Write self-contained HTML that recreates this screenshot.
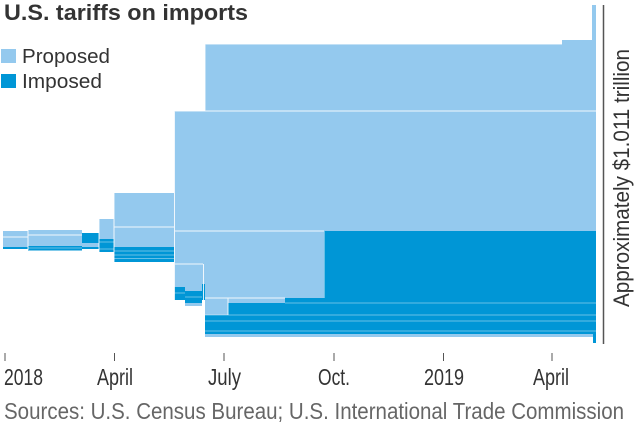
<!DOCTYPE html>
<html>
<head>
<meta charset="utf-8">
<style>
  html, body { margin: 0; padding: 0; background: #ffffff; }
  body { width: 640px; height: 428px; overflow: hidden; }
  svg { display: block; }
  text { font-family: "Liberation Sans Narrow", "Liberation Sans", sans-serif; }
</style>
</head>
<body>
<svg width="640" height="428" viewBox="0 0 640 428" xmlns="http://www.w3.org/2000/svg">
  <!-- Title -->
  <text x="4" y="20" font-size="22" font-weight="bold" fill="#333333" textLength="244" lengthAdjust="spacingAndGlyphs">U.S. tariffs on imports</text>

  <!-- Legend -->
  <rect x="1" y="49" width="15" height="14" fill="#94c9ee"/>
  <text x="22" y="63" font-size="20" fill="#333333" textLength="88" lengthAdjust="spacingAndGlyphs">Proposed</text>
  <rect x="1" y="74" width="15" height="14" fill="#0096d6"/>
  <text x="22" y="88" font-size="20" fill="#333333" textLength="80" lengthAdjust="spacingAndGlyphs">Imposed</text>

  <!-- Light (proposed) areas -->
  <g fill="#94c9ee">
    <rect x="3" y="231" width="25" height="16"/>
    <rect x="28" y="230" width="54" height="16"/>
    <rect x="82" y="243" width="17" height="4"/>
    <rect x="99" y="219" width="15" height="20"/>
    <rect x="114" y="193" width="60" height="54"/>
    <rect x="174" y="111" width="422" height="120"/>
    <rect x="205" y="44" width="391" height="67"/>
    <rect x="562" y="40" width="30" height="4"/>
    <rect x="592" y="5" width="4" height="39"/>
    <rect x="174" y="231" width="150" height="67"/>
    <rect x="174" y="264" width="11" height="23"/>
    <rect x="185" y="264" width="17" height="27"/>
    <rect x="185" y="303" width="17" height="3"/>
    <rect x="205" y="298" width="23" height="17"/>
    <rect x="228" y="298" width="57" height="5"/>
    <rect x="205" y="334" width="391" height="3"/>
  </g>

  <!-- Dark (imposed) areas -->
  <g fill="#0096d6">
    <rect x="3" y="247" width="25" height="2"/>
    <rect x="28" y="246" width="54" height="4.5"/>
    <rect x="82" y="233" width="17" height="10"/>
    <rect x="82" y="247" width="17" height="2"/>
    <rect x="99" y="239" width="15" height="13"/>
    <rect x="114" y="247" width="60" height="15"/>
    <rect x="324" y="231" width="272" height="67"/>
    <rect x="174" y="287" width="11" height="13"/>
    <rect x="185" y="291" width="17" height="12"/>
    <rect x="202" y="284" width="3" height="16"/>
    <rect x="228" y="303" width="57" height="13"/>
    <rect x="285" y="298" width="311" height="18"/>
    <rect x="205" y="315" width="391" height="19"/>
    <rect x="593" y="298" width="3" height="45"/>
  </g>

  <!-- White separators on light areas -->
  <g stroke="#ffffff" stroke-width="1" opacity="0.85" fill="none">
    <line x1="3" y1="237" x2="28" y2="237"/>
    <line x1="28" y1="235" x2="82" y2="235"/>
    <line x1="28" y1="230" x2="28" y2="250"/>
    <line x1="99" y1="219" x2="99" y2="252"/>
    <line x1="114" y1="193" x2="114" y2="262"/>
    <line x1="114" y1="227" x2="174" y2="227"/>
    <line x1="174.5" y1="111" x2="174.5" y2="300"/>
    <line x1="174" y1="111" x2="596" y2="111"/>
    <line x1="205" y1="44" x2="205" y2="111"/>
    <line x1="205" y1="44" x2="562" y2="44"/>
    <line x1="174" y1="231" x2="324" y2="231"/>
    <line x1="175" y1="264" x2="203" y2="264"/>
    <line x1="203.5" y1="264" x2="203.5" y2="305"/>
    <line x1="205" y1="298" x2="285" y2="298"/>
    <line x1="228" y1="298" x2="228" y2="315"/>
  </g>

  <!-- Lighter separators on dark areas -->
  <g stroke="#ffffff" stroke-width="1" opacity="0.4" fill="none">
    <line x1="28" y1="248" x2="82" y2="248"/>
    <line x1="99" y1="242" x2="114" y2="242"/>
    <line x1="99" y1="249" x2="114" y2="249"/>
    <line x1="114" y1="251" x2="174" y2="251"/>
    <line x1="114" y1="255" x2="174" y2="255"/>
    <line x1="114" y1="258.5" x2="174" y2="258.5"/>
    <line x1="174" y1="293" x2="185" y2="293"/>
    <line x1="185" y1="297" x2="202" y2="297"/>
    <line x1="324.5" y1="231" x2="324.5" y2="298"/>
    <line x1="285" y1="303" x2="596" y2="303"/>
    <line x1="205" y1="315" x2="596" y2="315"/>
    <line x1="205" y1="321" x2="596" y2="321"/>
    <line x1="205" y1="331" x2="596" y2="331"/>
  </g>

  <!-- Total line and label -->
  <line x1="603.5" y1="5" x2="603.5" y2="344" stroke="#555555" stroke-width="1.5"/>
  <text transform="translate(629,307) rotate(-90)" x="0" y="0" font-size="22" fill="#333333" textLength="258" lengthAdjust="spacingAndGlyphs">Approximately $1.011 trillion</text>

  <!-- Axis ticks -->
  <g stroke="#555555" stroke-width="1">
    <line x1="5" y1="353" x2="5" y2="361"/>
    <line x1="114.5" y1="353" x2="114.5" y2="361"/>
    <line x1="224" y1="353" x2="224" y2="361"/>
    <line x1="334" y1="353" x2="334" y2="361"/>
    <line x1="443.5" y1="353" x2="443.5" y2="361"/>
    <line x1="552" y1="353" x2="552" y2="361"/>
  </g>

  <!-- Axis labels -->
  <g font-size="23.5" fill="#333333">
    <text x="4" y="385" textLength="39" lengthAdjust="spacingAndGlyphs">2018</text>
    <text x="97" y="385" textLength="36" lengthAdjust="spacingAndGlyphs">April</text>
    <text x="208" y="385" textLength="33" lengthAdjust="spacingAndGlyphs">July</text>
    <text x="318" y="385" textLength="32" lengthAdjust="spacingAndGlyphs">Oct.</text>
    <text x="424" y="385" textLength="40" lengthAdjust="spacingAndGlyphs">2019</text>
    <text x="533" y="385" textLength="36" lengthAdjust="spacingAndGlyphs">April</text>
  </g>

  <!-- Source -->
  <text x="4" y="419" font-size="23.5" fill="#666666" textLength="620" lengthAdjust="spacingAndGlyphs">Sources: U.S. Census Bureau; U.S. International Trade Commission</text>
</svg>
</body>
</html>
